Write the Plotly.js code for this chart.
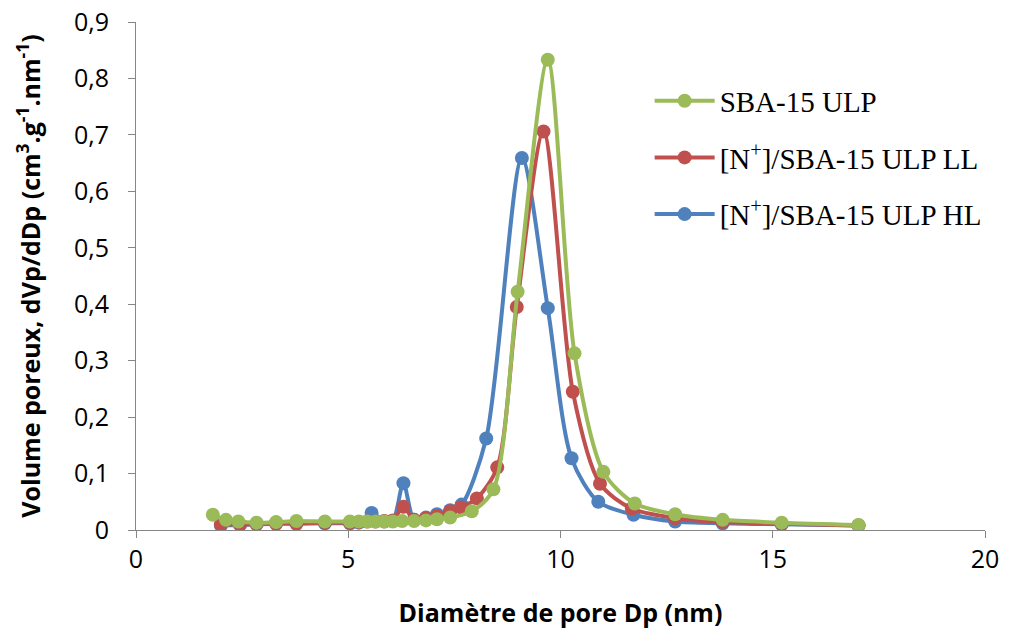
<!DOCTYPE html>
<html>
<head>
<meta charset="utf-8">
<script src="https://cdn.plot.ly/plotly-3.0.1.min.js"></script>
<style>html,body{margin:0;padding:0;background:#fff;}#chart{width:1009px;height:639px;}</style>
</head>
<body>
<div id="chart"></div>
<script>
// Series names
const seriesNames = ["SBA-15 ULP", "[N<sup>+</sup>]/SBA-15 ULP LL", "[N<sup>+</sup>]/SBA-15 ULP HL"];

// SBA-15 ULP (green)
const xGreen = [1.81, 2.12, 2.41, 2.84, 3.30, 3.78, 4.45, 5.04, 5.25, 5.45, 5.64, 5.85, 6.05, 6.27, 6.55, 6.83, 7.09, 7.40, 7.91, 8.42, 8.99, 9.70, 10.33, 11.01, 11.75, 12.70, 13.82, 15.21, 17.02];
const yGreen = [0.027, 0.018, 0.015, 0.013, 0.014, 0.016, 0.015, 0.015, 0.015, 0.015, 0.015, 0.015, 0.015, 0.016, 0.016, 0.017, 0.019, 0.022, 0.033, 0.072, 0.422, 0.833, 0.313, 0.103, 0.047, 0.028, 0.018, 0.013, 0.009];

// [N+]/SBA-15 ULP LL (red)
const xRed = [2.00, 2.45, 2.84, 3.30, 3.78, 4.45, 5.04, 5.25, 5.45, 5.64, 5.85, 6.05, 6.30, 6.55, 6.83, 7.09, 7.40, 7.65, 8.03, 8.51, 8.97, 9.60, 10.29, 10.93, 11.68, 12.70, 13.82, 15.21, 17.02];
const yRed = [0.010, 0.010, 0.011, 0.012, 0.012, 0.013, 0.013, 0.014, 0.015, 0.015, 0.016, 0.017, 0.041, 0.018, 0.021, 0.025, 0.033, 0.040, 0.056, 0.111, 0.395, 0.706, 0.245, 0.082, 0.038, 0.021, 0.014, 0.011, 0.008];

// [N+]/SBA-15 ULP HL (blue)
const xBlue = [2.00, 2.45, 2.84, 3.30, 3.78, 4.45, 5.04, 5.25, 5.55, 5.85, 6.05, 6.30, 6.55, 6.83, 7.09, 7.40, 7.67, 8.25, 9.09, 9.70, 10.26, 10.89, 11.72, 12.70, 13.82, 15.21, 17.02];
const yBlue = [0.008, 0.009, 0.010, 0.011, 0.011, 0.012, 0.012, 0.013, 0.030, 0.015, 0.016, 0.083, 0.018, 0.022, 0.028, 0.035, 0.045, 0.162, 0.659, 0.393, 0.127, 0.050, 0.027, 0.015, 0.012, 0.010, 0.008];

const colors = ["#9BBB59", "#C0504D", "#4F81BD"];

function mk(x, y, name, color, group, rank) {
  return {
    x: x, y: y, name: name, type: "scatter", mode: "lines+markers",
    legendgroup: group, legendrank: rank,
    line: {color: color, width: 4, shape: "spline", smoothing: 0.8},
    marker: {color: color, size: 14}
  };
}

const data = [
  mk(xBlue, yBlue, seriesNames[2], colors[2], "c", 3),
  mk(xRed, yRed, seriesNames[1], colors[1], "b", 2),
  mk(xGreen, yGreen, seriesNames[0], colors[0], "a", 1)
];

const tickFont = {family: "Open Sans, Liberation Sans, sans-serif", size: 25, color: "#000"};
const titleFont = {family: "Open Sans, Liberation Sans, sans-serif", size: 25, color: "#000"};

const layout = {
  width: 1009, height: 639,
  margin: {l: 136, r: 24, t: 22, b: 109},
  paper_bgcolor: "#fff", plot_bgcolor: "#fff",
  separators: ", ",
  showlegend: true,
  legend: {
    x: 0.605, y: 0.895, xanchor: "left", yanchor: "top",
    traceorder: "grouped",
    font: {family: "Liberation Serif, Times New Roman, serif", size: 29, color: "#000"},
    tracegroupgap: 16, itemwidth: 60,
    bgcolor: "rgba(0,0,0,0)"
  },
  xaxis: {
    range: [0, 20], dtick: 5, tick0: 0,
    showgrid: false, zeroline: false,
    showline: true, linecolor: "#868686", linewidth: 1,
    ticks: "outside", ticklen: 7, tickcolor: "#868686",
    tickfont: tickFont,
    title: {text: "<b>Diamètre de pore Dp (nm)</b>", font: titleFont, standoff: 30}
  },
  yaxis: {
    range: [0, 0.9], dtick: 0.1, tick0: 0,
    showgrid: false, zeroline: false,
    showline: true, linecolor: "#868686", linewidth: 1,
    ticks: "outside", ticklen: 7, tickcolor: "#868686",
    ticklabelstandoff: 14,
    tickfont: tickFont,
    tickformat: ".1~f",
    title: {text: "<b>Volume poreux, dVp/dDp (cm<sup>3</sup>.g<sup>-1</sup>.nm<sup>-1</sup>)</b>", font: titleFont, standoff: 26}
  }
};

Plotly.newPlot("chart", data, layout, {displayModeBar: false, staticPlot: true});
</script>
</body>
</html>
